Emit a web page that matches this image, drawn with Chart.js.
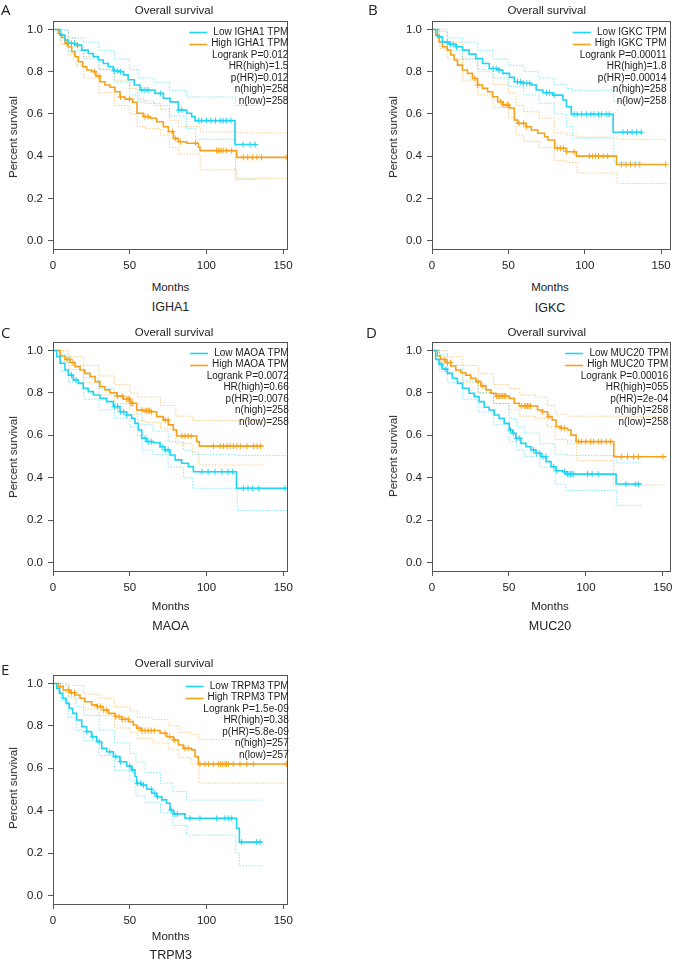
<!DOCTYPE html>
<html>
<head>
<meta charset="utf-8">
<script src="https://cdn.jsdelivr.net/npm/chart.js@4.4.1/dist/chart.umd.min.js"></script>
<style>
  html, body { margin: 0; padding: 0; background: #fff; overflow: hidden; }
  #page { position: relative; width: 675px; height: 963px; font-family: "Liberation Sans", Arial, sans-serif; color: #222; }
  #page canvas { position: absolute; }
  .lbl { position: absolute; white-space: nowrap; transform: translate(-50%, -50%); }
  .letter { position: absolute; white-space: nowrap; transform: translateY(-50%); font-family: "Open Sans", sans-serif; font-size: 15px; }
  .ytitle { transform: translate(-50%, -50%) rotate(-90deg); }
</style>
</head>
<body>
<div id="page"></div>
<script>
// Axis ticks
const xTicks = [0, 50, 100, 150];
const yTicks = [0, 0.2, 0.4, 0.6, 0.8, 1.0];

// Panel A - IGHA1
const aLowT = [0, 4.6, 7.8, 10, 14.3, 18.7, 23, 26.3, 29.6, 32.8, 36, 39.3, 42.6, 46, 49, 53, 56.7, 66.5, 72, 76.3, 81.7, 87.2, 90.4, 92.6, 118.7, 132.8];
const aLowS = [1, 0.973, 0.95, 0.934, 0.926, 0.902, 0.886, 0.871, 0.855, 0.839, 0.823, 0.804, 0.80, 0.785, 0.762, 0.737, 0.713, 0.697, 0.674, 0.657, 0.618, 0.603, 0.587, 0.568, 0.455, 0.455];
const aLowCens = [12, 14, 16, 40, 42, 44, 58, 60, 62, 70, 82, 84, 95, 97, 100, 103, 106, 109, 111, 113, 116, 124, 128.5, 131.8];
const aLowCiT = [0, 5, 10, 20, 30, 40, 50, 56, 66, 76, 87, 93, 119, 132.8];
const aLowUp = [1, 0.995, 0.96, 0.94, 0.90, 0.86, 0.81, 0.77, 0.75, 0.71, 0.68, 0.68, 0.64, 0.64];
const aLowLo = [1, 0.95, 0.90, 0.86, 0.81, 0.75, 0.69, 0.66, 0.64, 0.59, 0.53, 0.48, 0.29, 0.29];
const aHighT = [0, 3.5, 5.7, 7.8, 10, 12.2, 14.3, 16.5, 19.3, 22, 25.2, 28, 30.7, 33.9, 37.2, 40.4, 43.7, 47, 52, 54.8, 58.9, 63.3, 67.6, 72, 75.2, 78.5, 81.7, 87.2, 94.8, 95.9, 119.8, 152.4];
const aHighS = [1, 0.981, 0.962, 0.934, 0.918, 0.894, 0.871, 0.847, 0.823, 0.808, 0.80, 0.779, 0.752, 0.737, 0.726, 0.705, 0.68, 0.67, 0.655, 0.603, 0.587, 0.579, 0.563, 0.539, 0.516, 0.484, 0.468, 0.461, 0.442, 0.426, 0.394, 0.394];
const aHighCens = [9, 27, 30, 44, 50, 60, 62, 78, 80, 83, 93, 106.7, 108, 109.5, 111, 113, 116.5, 124, 127, 130, 133, 136, 152];
const aHighCiT = [0, 5, 10, 15, 20, 30, 40, 50, 55, 60, 70, 76, 82, 96, 120, 152.4];
const aHighUp = [1, 1, 0.96, 0.92, 0.87, 0.81, 0.76, 0.72, 0.67, 0.65, 0.62, 0.57, 0.54, 0.515, 0.51, 0.51];
const aHighLo = [1, 0.93, 0.88, 0.83, 0.77, 0.70, 0.64, 0.60, 0.54, 0.53, 0.50, 0.44, 0.41, 0.335, 0.295, 0.295];
const aStats = ['Low IGHA1 TPM', 'High IGHA1 TPM', 'Logrank P=0.012', 'HR(high)=1.5', 'p(HR)=0.012', 'n(high)=258', 'n(low)=258'];

// Panel B - IGKC
const bLowT = [0, 3.5, 6.8, 11.2, 15.6, 20, 24.3, 28.7, 33.1, 37.5, 43, 46.3, 50.7, 53.9, 59.4, 64.9, 68.2, 72.6, 79.1, 85.7, 88, 91.2, 118.6, 137.3];
const bLowS = [1, 0.965, 0.94, 0.93, 0.918, 0.902, 0.883, 0.862, 0.839, 0.815, 0.808, 0.792, 0.773, 0.752, 0.745, 0.737, 0.713, 0.70, 0.689, 0.666, 0.634, 0.598, 0.513, 0.513];
const bLowCens = [10, 12, 14, 16, 40, 42, 44, 56, 58, 60, 62, 64, 75, 77, 80, 93, 95, 98, 101, 104, 106, 109, 111, 114, 116, 125, 128, 131, 134, 137];
const bLowCiT = [0, 5, 10, 20, 30, 40, 50, 60, 70, 80, 88, 92, 119, 137.3];
const bLowUp = [1, 1, 0.96, 0.94, 0.90, 0.86, 0.83, 0.80, 0.77, 0.74, 0.72, 0.71, 0.66, 0.66];
const bLowLo = [1, 0.94, 0.90, 0.86, 0.81, 0.77, 0.73, 0.69, 0.65, 0.60, 0.54, 0.485, 0.37, 0.37];
const bHighT = [0, 2.4, 4.6, 6.8, 10, 12.3, 14.5, 16.7, 19.9, 23.2, 26.5, 29.8, 33.1, 36.4, 39.7, 43, 46.3, 50.7, 53.9, 56.1, 61.6, 65, 69.3, 73.7, 75.9, 80.3, 88, 94.5, 120.8, 153.3];
const bHighS = [1, 0.973, 0.942, 0.918, 0.902, 0.879, 0.855, 0.831, 0.808, 0.792, 0.768, 0.737, 0.721, 0.705, 0.681, 0.658, 0.642, 0.628, 0.571, 0.555, 0.539, 0.524, 0.508, 0.492, 0.476, 0.437, 0.421, 0.40, 0.36, 0.36];
const bHighCens = [28, 30, 45, 47, 49, 50, 57, 60, 62, 82, 84, 86, 88, 93, 103, 105, 107, 109, 112, 115, 124, 127, 130, 133, 136, 153];
const bHighCiT = [0, 5, 10, 20, 30, 40, 50, 55, 60, 70, 80, 88, 95, 121, 153.3];
const bHighUp = [1, 0.99, 0.94, 0.86, 0.80, 0.74, 0.70, 0.64, 0.61, 0.58, 0.51, 0.50, 0.49, 0.48, 0.48];
const bHighLo = [1, 0.91, 0.86, 0.76, 0.69, 0.63, 0.58, 0.50, 0.47, 0.44, 0.38, 0.37, 0.32, 0.27, 0.27];
const bStats = ['Low IGKC TPM', 'High IGKC TPM', 'Logrank P=0.00011', 'HR(high)=1.8', 'p(HR)=0.00014', 'n(high)=258', 'n(low)=258'];

// Panel C - MAOA
const cLowT = [0, 2.4, 4.6, 7.8, 10, 13.2, 16.5, 19.7, 23, 26.3, 30.6, 35, 39.3, 43.6, 48, 51.2, 53.4, 55.6, 57.8, 61, 65.3, 69.7, 72.9, 76.2, 79.5, 83.8, 88.1, 91.4, 119.5, 152.6];
const cLowS = [1, 0.971, 0.94, 0.908, 0.884, 0.861, 0.845, 0.822, 0.806, 0.79, 0.774, 0.759, 0.735, 0.711, 0.696, 0.68, 0.656, 0.625, 0.586, 0.57, 0.565, 0.546, 0.531, 0.507, 0.484, 0.468, 0.452, 0.428, 0.35, 0.35];
const cLowCens = [12, 15, 40, 42, 44, 46, 48, 60, 62, 64, 71, 73, 75, 97, 101, 105.5, 110, 114, 117, 124, 127, 130, 134, 151];
const cLowCiT = [0, 5, 10, 20, 30, 40, 50, 55, 58, 65, 75, 85, 91, 120, 152.6];
const cLowUp = [1, 0.98, 0.93, 0.87, 0.82, 0.78, 0.74, 0.70, 0.65, 0.62, 0.57, 0.53, 0.51, 0.505, 0.505];
const cLowLo = [1, 0.90, 0.85, 0.77, 0.72, 0.68, 0.64, 0.60, 0.53, 0.51, 0.45, 0.40, 0.35, 0.245, 0.245];
const cHighT = [0, 4.6, 7.8, 11.1, 14.3, 17.6, 20.8, 24.1, 27.4, 30.6, 33.9, 37.1, 41.5, 45.8, 50.2, 54.5, 58.8, 63.2, 67.5, 71.8, 75.1, 78.4, 80.6, 93.6, 95.3, 137];
const cHighS = [1, 0.974, 0.958, 0.943, 0.924, 0.908, 0.892, 0.877, 0.853, 0.829, 0.814, 0.801, 0.785, 0.770, 0.751, 0.719, 0.716, 0.711, 0.688, 0.672, 0.649, 0.625, 0.597, 0.570, 0.549, 0.549];
const cHighCens = [9, 11, 13, 42, 45, 48, 49, 50, 51, 52, 58, 60, 61, 62, 63, 64, 73, 75, 84, 86, 88, 90, 104.5, 108.9, 111, 113.3, 115.4, 117.6, 119.8, 122, 126.3, 130.7, 132.9, 135.1];
const cHighCiT = [0, 5, 10, 20, 30, 40, 50, 55, 60, 70, 80, 91, 95, 137];
const cHighUp = [1, 1, 0.97, 0.93, 0.88, 0.84, 0.80, 0.78, 0.78, 0.74, 0.69, 0.67, 0.67, 0.67];
const cHighLo = [1, 0.95, 0.91, 0.85, 0.79, 0.75, 0.70, 0.67, 0.66, 0.63, 0.56, 0.52, 0.46, 0.46];
const cStats = ['Low MAOA TPM', 'High MAOA TPM', 'Logrank P=0.0072', 'HR(high)=0.66', 'p(HR)=0.0076', 'n(high)=258', 'n(low)=258'];

// Panel D - MUC20
const dLowT = [0, 2.4, 4.6, 6.7, 10, 13.2, 16.5, 19.8, 24.1, 27.4, 30.6, 33.9, 37.1, 40.4, 43.6, 46.9, 50.2, 52.3, 54.5, 57.8, 61, 64.3, 67.5, 70.8, 74.1, 77.3, 80.6, 84.9, 87.1, 119.6, 136];
const dLowS = [1, 0.958, 0.935, 0.912, 0.892, 0.869, 0.845, 0.822, 0.798, 0.782, 0.759, 0.732, 0.719, 0.696, 0.680, 0.656, 0.625, 0.609, 0.586, 0.562, 0.546, 0.531, 0.515, 0.499, 0.476, 0.452, 0.433, 0.428, 0.417, 0.37, 0.37];
const dLowCens = [6, 9, 51, 53, 55, 57, 66, 68, 70, 72, 74, 79, 81, 86, 88, 89, 90, 91, 92, 101, 104, 108, 126, 132, 134];
const dLowCiT = [0, 5, 10, 20, 30, 40, 50, 55, 60, 70, 80, 87, 120, 136];
const dLowUp = [1, 0.98, 0.93, 0.86, 0.80, 0.75, 0.68, 0.64, 0.61, 0.56, 0.51, 0.505, 0.47, 0.47];
const dLowLo = [1, 0.90, 0.85, 0.77, 0.71, 0.65, 0.57, 0.53, 0.50, 0.45, 0.37, 0.34, 0.27, 0.27];
const dHighT = [0, 3.5, 5.6, 8.9, 12.2, 15.4, 18.7, 21.9, 25.2, 28.5, 31.7, 35, 38.2, 41.5, 50.2, 53.4, 56.7, 68.6, 71.8, 75.1, 78, 80.6, 83.8, 88.1, 90.3, 93.6, 118.1, 152.2];
const dHighS = [1, 0.974, 0.958, 0.943, 0.927, 0.908, 0.895, 0.884, 0.869, 0.853, 0.833, 0.814, 0.798, 0.785, 0.774, 0.751, 0.738, 0.719, 0.711, 0.688, 0.672, 0.641, 0.633, 0.625, 0.601, 0.570, 0.499, 0.499];
const dHighCens = [8, 10, 12, 30, 33, 42, 43, 44, 45, 46, 47, 48, 58, 60, 61, 62, 63, 64, 72, 76, 84, 86, 95, 97, 100, 103, 105, 108, 110, 113, 116, 123, 127, 131, 134, 150];
const dHighCiT = [0, 5, 10, 20, 30, 40, 50, 57, 67, 75, 80, 88, 94, 118, 152.2];
const dHighUp = [1, 1, 0.97, 0.93, 0.89, 0.84, 0.82, 0.79, 0.78, 0.74, 0.70, 0.69, 0.69, 0.69, 0.69];
const dHighLo = [1, 0.94, 0.90, 0.85, 0.80, 0.75, 0.72, 0.69, 0.68, 0.64, 0.58, 0.56, 0.48, 0.365, 0.365];
const dStats = ['Low MUC20 TPM', 'High MUC20 TPM', 'Logrank P=0.00016', 'HR(high)=055', 'p(HR)=2e-04', 'n(high)=258', 'n(low)=258'];

// Panel E - TRPM3
const eLowT = [0, 2.4, 4.1, 6.3, 8.5, 10.6, 12.8, 15.4, 18.7, 21.9, 25.2, 28.5, 31.7, 35, 39.3, 43.6, 48, 51.2, 53.4, 54.5, 57.8, 61, 64.3, 67.5, 70.8, 74, 76.2, 78.4, 86, 118.5, 119.6, 121.4, 136];
const eLowS = [1, 0.977, 0.954, 0.93, 0.906, 0.883, 0.859, 0.828, 0.796, 0.773, 0.749, 0.726, 0.694, 0.678, 0.655, 0.631, 0.611, 0.592, 0.561, 0.529, 0.521, 0.501, 0.482, 0.466, 0.451, 0.435, 0.403, 0.385, 0.364, 0.364, 0.317, 0.252, 0.252];
const eLowCens = [22, 26, 30, 37, 41, 44, 50, 52, 55, 57, 59, 64, 66, 68, 77, 79, 81, 89.2, 95.7, 106.6, 112, 114.2, 116.4, 122.9, 132.7, 134.8];
const eLowCiT = [0, 5, 10, 15, 20, 30, 40, 50, 54, 60, 70, 78, 87, 119, 121.4, 136];
const eLowUp = [1, 0.99, 0.94, 0.89, 0.85, 0.78, 0.72, 0.67, 0.63, 0.58, 0.53, 0.49, 0.45, 0.45, 0.45, 0.45];
const eLowLo = [1, 0.92, 0.84, 0.78, 0.73, 0.66, 0.59, 0.54, 0.47, 0.44, 0.39, 0.33, 0.285, 0.20, 0.14, 0.14];
const eHighT = [0, 3.5, 6.7, 11.1, 14.3, 17.6, 20.8, 25.2, 28.5, 32.8, 36.1, 40.4, 44.8, 49.1, 52.3, 54.5, 57.8, 69.7, 74, 78.4, 81.7, 84.9, 90.3, 92.5, 94.6, 152.6];
const eHighS = [1, 0.985, 0.969, 0.957, 0.946, 0.93, 0.914, 0.899, 0.891, 0.875, 0.859, 0.844, 0.831, 0.82, 0.804, 0.789, 0.778, 0.765, 0.749, 0.733, 0.71, 0.694, 0.687, 0.655, 0.62, 0.62];
const eHighCens = [10, 12, 14, 29, 31, 33, 35, 41, 43, 45, 47, 49, 56, 58, 60, 62, 64, 66, 73, 76, 79, 86, 88, 95.7, 99, 101.2, 104.4, 107.7, 109, 110.5, 112, 113, 114.2, 117.4, 121.8, 126.2, 130.5, 152];
const eHighCiT = [0, 5, 10, 20, 30, 40, 50, 55, 65, 75, 82, 90, 95, 152.6];
const eHighUp = [1, 1, 0.99, 0.95, 0.93, 0.89, 0.87, 0.84, 0.83, 0.80, 0.77, 0.76, 0.735, 0.735];
const eHighLo = [1, 0.96, 0.93, 0.88, 0.85, 0.79, 0.77, 0.74, 0.72, 0.69, 0.65, 0.62, 0.53, 0.53];
const eStats = ['Low TRPM3 TPM', 'High TRPM3 TPM', 'Logrank P=1.5e-09', 'HR(high)=0.38', 'p(HR)=5.8e-09', 'n(high)=257', 'n(low)=257'];

const lowColor = '#1fd5f3';
const highColor = '#f6a11c';
const lowCi = 'rgba(31, 213, 243, 0.55)';
const highCi = 'rgba(246, 161, 28, 0.55)';
const frameColor = '#555';
const fontFamily = '"Liberation Sans", Arial, sans-serif';
const legendAnchor = 153.5; // months, right edge of legend text

// area = [left, top, right, bottom] of the plot box on the page
const panels = [
    { letter: 'A', gene: 'IGHA1', area: [53, 21, 287, 249], xMax: 152.6,
      low: [aLowT, aLowS, aLowCens, aLowCiT, aLowUp, aLowLo], high: [aHighT, aHighS, aHighCens, aHighCiT, aHighUp, aHighLo], stats: aStats,
      pos: { letter: [1, 8.5], title: [174, 10], ytitle: [12.5, 137], months: [170.5, 287], gene: [170.5, 307] } },
    { letter: 'B', gene: 'IGKC', area: [432, 21, 670, 249], xMax: 155.8,
      low: [bLowT, bLowS, bLowCens, bLowCiT, bLowUp, bLowLo], high: [bHighT, bHighS, bHighCens, bHighCiT, bHighUp, bHighLo], stats: bStats,
      pos: { letter: [368, 8.5], title: [546.7, 10], ytitle: [392.5, 137], months: [550, 287], gene: [550, 308] } },
    { letter: 'C', gene: 'MAOA', area: [53, 342, 287, 571], xMax: 152.4,
      low: [cLowT, cLowS, cLowCens, cLowCiT, cLowUp, cLowLo], high: [cHighT, cHighS, cHighCens, cHighCiT, cHighUp, cHighLo], stats: cStats,
      pos: { letter: [1, 331.7], title: [174, 332.3], ytitle: [12.5, 456.7], months: [170.7, 606], gene: [170.7, 626] } },
    { letter: 'D', gene: 'MUC20', area: [432, 342, 670, 571], xMax: 154.6,
      low: [dLowT, dLowS, dLowCens, dLowCiT, dLowUp, dLowLo], high: [dHighT, dHighS, dHighCens, dHighCiT, dHighUp, dHighLo], stats: dStats,
      pos: { letter: [366, 331.7], title: [546.7, 332.3], ytitle: [392.5, 456], months: [550, 606], gene: [550, 626] } },
    { letter: 'E', gene: 'TRPM3', area: [53, 675, 287, 904], xMax: 152.4,
      low: [eLowT, eLowS, eLowCens, eLowCiT, eLowUp, eLowLo], high: [eHighT, eHighS, eHighCens, eHighCiT, eHighUp, eHighLo], stats: eStats,
      pos: { letter: [1, 669.3], title: [174, 663.3], ytitle: [12.5, 788.3], months: [170.7, 936], gene: [170.7, 955] } }
];

const page = document.getElementById('page');

const toPoints = (t, s) => t.map((x, i) => ({ x, y: s[i] }));

// survival value of the step curve at time c
const survivalAt = (t, s, c) => {
    let v = s[0];
    for (let i = 0; i < t.length; i++) {
        if (t[i] <= c) v = s[i];
    }
    return v;
};

const groupDatasets = (g, color, ciColor) => {
    const [t, s, cens, ciT, up, lo] = g;
    const ci = data => ({
        data, borderColor: ciColor, borderWidth: 1, borderDash: [1.5, 1.5],
        stepped: true, pointRadius: 0, fill: false, order: 3
    });
    return [
        { data: toPoints(t, s), borderColor: color, borderWidth: 1.6, stepped: true, pointRadius: 0, fill: false, order: 1 },
        ci(toPoints(ciT, up)),
        ci(toPoints(ciT, lo)),
        { data: cens.map(c => ({ x: c, y: survivalAt(t, s, c) })), showLine: false, pointStyle: 'cross',
          pointRadius: 3, pointBorderWidth: 1, pointBorderColor: color, borderColor: color, order: 0 }
    ];
};

const framePlugin = {
    id: 'frame',
    afterDatasetsDraw: (chart) => {
        const { ctx, chartArea: a } = chart;
        ctx.save();
        ctx.strokeStyle = frameColor;
        ctx.lineWidth = 1;
        ctx.strokeRect(Math.round(a.left) + 0.5, Math.round(a.top) + 0.5, Math.round(a.right - a.left), Math.round(a.bottom - a.top));
        ctx.restore();
    }
};

const legendPlugin = {
    id: 'kmLegend',
    afterDraw: (chart, args, opts) => {
        const { ctx, chartArea, scales } = chart;
        const xr = scales.x.getPixelForValue(legendAnchor);
        ctx.save();
        ctx.font = '10px ' + fontFamily;
        ctx.textAlign = 'right';
        ctx.textBaseline = 'middle';
        const longest = Math.max(ctx.measureText(opts.lines[0]).width, ctx.measureText(opts.lines[1]).width);
        opts.lines.forEach((txt, i) => {
            const y = chartArea.top + 11 + i * 11.5;
            ctx.fillStyle = '#222';
            ctx.fillText(txt, xr, y);
            if (i < 2) {
                const x1 = xr - longest - 4;
                ctx.strokeStyle = i === 0 ? lowColor : highColor;
                ctx.lineWidth = 1.6;
                ctx.beginPath();
                ctx.moveTo(x1 - 18, Math.round(y) + 0.5);
                ctx.lineTo(x1, Math.round(y) + 0.5);
                ctx.stroke();
            }
        });
        ctx.restore();
    }
};

const addLabel = (text, xy, cls, size) => {
    const el = document.createElement('div');
    el.className = cls;
    el.textContent = text;
    el.style.left = xy[0] + 'px';
    el.style.top = xy[1] + 'px';
    if (size) el.style.fontSize = size + 'px';
    page.appendChild(el);
};

const makePanel = (p) => {
    const [L, T, R, B] = p.area;
    const padL = 50, padT = 10, padR = 8, axisH = 25, padB = 5;
    const w = R - L + padL + padR;
    const h = B - T + padT + axisH + padB;
    const canvas = document.createElement('canvas');
    canvas.width = w;
    canvas.height = h;
    canvas.style.left = (L - padL) + 'px';
    canvas.style.top = (T - padT) + 'px';
    canvas.style.width = w + 'px';
    canvas.style.height = h + 'px';
    page.appendChild(canvas);

    new Chart(canvas, {
        type: 'line',
        data: {
            datasets: [
                ...groupDatasets(p.low, lowColor, lowCi),
                ...groupDatasets(p.high, highColor, highCi)
            ]
        },
        options: {
            responsive: false,
            animation: false,
            devicePixelRatio: 1,
            layout: { padding: { left: 0, top: padT, right: padR, bottom: padB } },
            plugins: {
                legend: { display: false },
                tooltip: { enabled: false },
                kmLegend: { lines: p.stats }
            },
            scales: {
                x: {
                    type: 'linear', min: 0, max: p.xMax,
                    afterBuildTicks: s => { s.ticks = xTicks.map(v => ({ value: v })); },
                    afterFit: s => { s.height = axisH; s.paddingLeft = 0; s.paddingRight = 0; },
                    grid: { drawOnChartArea: false, drawTicks: true, tickLength: 5, color: frameColor },
                    border: { display: false },
                    ticks: { color: '#222', font: { size: 11.5, family: fontFamily }, padding: 5, maxRotation: 0, autoSkip: false }
                },
                y: {
                    type: 'linear', min: -0.04, max: 1.04,
                    afterBuildTicks: s => { s.ticks = yTicks.map(v => ({ value: v })); },
                    afterFit: s => { s.width = padL; s.paddingTop = 0; s.paddingBottom = 0; },
                    grid: { drawOnChartArea: false, drawTicks: true, tickLength: 5, color: frameColor },
                    border: { display: false },
                    ticks: { color: '#222', font: { size: 11.5, family: fontFamily }, padding: 5, callback: v => v.toFixed(1) }
                }
            }
        },
        plugins: [framePlugin, legendPlugin]
    });

    addLabel(p.letter, p.pos.letter, 'letter');
    addLabel('Overall survival', p.pos.title, 'lbl', 11.5);
    addLabel('Percent survival', p.pos.ytitle, 'lbl ytitle', 11.5);
    addLabel('Months', p.pos.months, 'lbl', 11.5);
    addLabel(p.gene, p.pos.gene, 'lbl', 12.5);
};

panels.forEach(makePanel);
</script>
</body>
</html>
